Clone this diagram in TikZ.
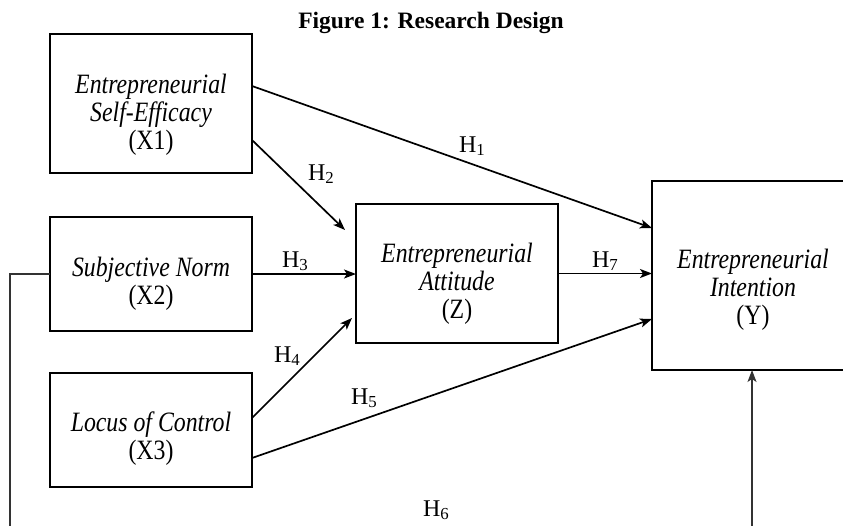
\documentclass[tikz,border=0pt]{standalone}
\usepackage{fontspec}
\setmainfont{Liberation Serif}
\newfontfamily\boxfont{Liberation Serif}[FakeStretch=0.85]
\usetikzlibrary{arrows.meta, positioning, calc}

\begin{document}
\begin{tikzpicture}[x=1pt, y=-1pt, outer sep=0pt, >={Stealth[length=12pt,width=9pt,inset=3pt]}]

\tikzstyle{box}=[rectangle, draw, line width=1.7pt, fill=white, minimum width=202pt, inner sep=0pt]
\tikzstyle{boxtext}=[align=center, inner sep=0pt, font=\boxfont\fontsize{28}{28}\selectfont]
\tikzstyle{link}=[->, line width=1.7pt]
\tikzstyle{thinlink}=[line width=1.2pt, draw=black!80]
\tikzstyle{hyp}=[anchor=base west, inner sep=0pt, font=\fontsize{24}{24}\selectfont]

\useasboundingbox (0,0) rectangle (843,525);
\clip (0,0) rectangle (843,525);

\node[font=\bfseries\fontsize{23.5}{23.5}\selectfont] (title) at (431,23) {Figure 1: Research Design};

% boxes
\node[box, minimum height=139pt] (x1) at (151,103.5) {};
\node[box, minimum height=114pt] (x2) at (151,274) {};
\node[box, minimum height=114pt] (x3) at (151,430) {};
\node[box, minimum height=139pt] (z) at (457,273.5) {};
\node[box, minimum width=203pt, minimum height=189pt] (yy) at (753.5,275.5) {};

\node[boxtext] (x1txt) at ([yshift=-11.5pt]x1.center) {\textit{Entrepreneurial}\\\textit{Self-Efficacy}\\(X1)};
\node[boxtext] (x2txt) at ([yshift=-10pt]x2.center) {\textit{Subjective Norm}\\(X2)};
\node[boxtext] (x3txt) at ([yshift=-9pt]x3.center) {\textit{Locus of Control}\\(X3)};
\node[boxtext] (ztxt) at ([yshift=-10.5pt]z.center) {\textit{Entrepreneurial}\\\textit{Attitude}\\(Z)};
\node[boxtext] (yytxt) at ([xshift=-0.5pt,yshift=-14.5pt]yy.center) {\textit{Entrepreneurial}\\\textit{Intention}\\(Y)};

% paths
\draw[link] ([yshift=17.5pt]x1.east) -- ([yshift=47.5pt]yy.west);
\draw[link] ([yshift=-36.5pt]x1.east) -- ([xshift=-11pt,yshift=43.5pt]z.west);
\draw[link] (x2.east) -- (x2.east -| z.west);
\draw[link] ([yshift=12pt]x3.east) -- ([xshift=-4pt,yshift=-44.5pt]z.west);
\draw[link] ([yshift=-28pt]x3.east) -- ([yshift=-43.5pt]yy.west);
\draw[link] (z.east) -- (z.east -| yy.west);

\coordinate (h6left) at (10,535);
\coordinate (h6right) at (752,535);
\draw[thinlink] (x2.west) -| (h6left);
\draw[thinlink, ->] (h6right) -- (h6right |- yy.south);

% labels
\node[hyp] (h1) at (459,152) {H\textsubscript{1}};
\node[hyp] (h2) at (308,180) {H\textsubscript{2}};
\node[hyp] (h3) at (282,267) {H\textsubscript{3}};
\node[hyp] (h4) at (274,362) {H\textsubscript{4}};
\node[hyp] (h5) at (351,404) {H\textsubscript{5}};
\node[hyp] (h6) at (423,516) {H\textsubscript{6}};
\node[hyp] (h7) at (592,267) {H\textsubscript{7}};
\end{tikzpicture}
\end{document}
